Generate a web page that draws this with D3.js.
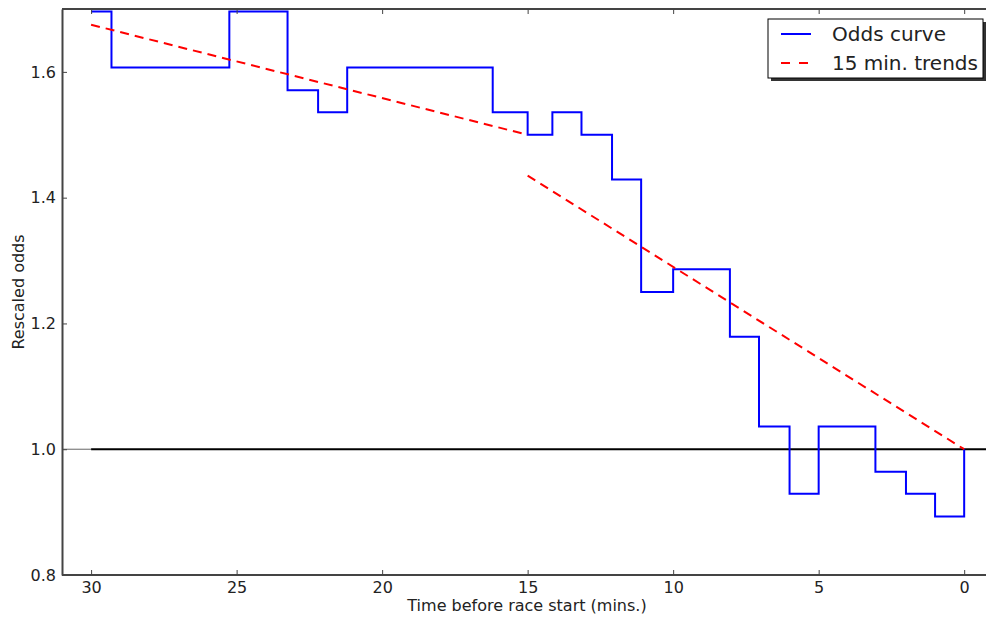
<!DOCTYPE html>
<html>
<head>
<meta charset="utf-8">
<script src="https://cdn.jsdelivr.net/npm/d3@7"></script>
<style>
  body { margin: 0; background: #fff; }
  svg { display: block; font-family: "DejaVu Sans", sans-serif; }
</style>
</head>
<body>
<svg id="chart" width="986" height="619"></svg>
<script>
// odds curve (minutes before start, rescaled odds)
const stepTimes = [30, 29.3, 25.25, 23.25, 22.2, 21.2, 16.2, 15, 14.15, 13.15, 12.1, 11.1, 10, 8.05, 7.05, 6, 5, 3.05, 2, 1, 0]
const stepOdds = [1.696, 1.607, 1.696, 1.571, 1.536, 1.607, 1.536, 1.5, 1.536, 1.5, 1.429, 1.25, 1.286, 1.179, 1.036, 0.929, 1.036, 0.964, 0.929, 0.893, 1.0]

// two 15 minute trend segments
const trendA = [[30, 1.675], [15, 1.5]]
const trendB = [[15, 1.435], [0, 1.0]]

const baseline = 1.0
const xTicks = [30, 25, 20, 15, 10, 5, 0]
const yTicks = [0.8, 1.0, 1.2, 1.4, 1.6]
const legendLabels = ['Odds curve', '15 min. trends']

const mLeft = 62, mRight = 986, mTop = 9, mBottom = 575

const svg = d3.select('#chart')

const xScale = d3.scaleLinear().domain([31, -0.75]).range([mLeft, mRight])
const yScale = d3.scaleLinear().domain([0.8, 1.7]).range([mBottom, mTop])

const points = stepTimes.map((t, i) => [t, stepOdds[i]])

const plot = svg.append('g')

// thin part of the 1.0 line left of the data, then the black line
plot.append('line')
    .attr('x1', xScale(31)).attr('x2', xScale(30))
    .attr('y1', yScale(baseline)).attr('y2', yScale(baseline))
    .attr('stroke', '#666').attr('stroke-width', 1)
plot.append('line')
    .attr('x1', xScale(30)).attr('x2', mRight)
    .attr('y1', yScale(baseline)).attr('y2', yScale(baseline))
    .attr('stroke', '#000').attr('stroke-width', 2)

const stepLine = d3.line()
    .x(d => xScale(d[0]))
    .y(d => yScale(d[1]))
    .curve(d3.curveStepAfter)

plot.append('path')
    .datum(points)
    .attr('d', stepLine)
    .attr('fill', 'none')
    .attr('stroke', '#0000ff')
    .attr('stroke-width', 2)

const straight = d3.line().x(d => xScale(d[0])).y(d => yScale(d[1]))

;[trendA, trendB].forEach(seg => {
    plot.append('path')
        .datum(seg)
        .attr('d', straight)
        .attr('fill', 'none')
        .attr('stroke', '#ff0000')
        .attr('stroke-width', 2)
        .attr('stroke-dasharray', '9,6')
})

// axes, matplotlib style: ticks point inwards, top spine too
const xAxis = svg.append('g')
    .attr('transform', 'translate(0,' + mBottom + ')')
    .call(d3.axisBottom(xScale).tickValues(xTicks).tickFormat(d3.format('d'))
        .tickSizeInner(-5).tickSizeOuter(0).tickPadding(7))
const xAxisTop = svg.append('g')
    .attr('transform', 'translate(0,' + mTop + ')')
    .call(d3.axisTop(xScale).tickValues(xTicks).tickFormat('')
        .tickSizeInner(-5).tickSizeOuter(0))
const yAxis = svg.append('g')
    .attr('transform', 'translate(' + mLeft + ',0)')
    .call(d3.axisLeft(yScale).tickValues(yTicks).tickFormat(d3.format('.1f'))
        .tickSizeInner(-5).tickSizeOuter(0).tickPadding(6))

;[xAxis, xAxisTop, yAxis].forEach(g => {
    g.select('.domain').attr('stroke', '#444').attr('stroke-width', 2)
    g.selectAll('.tick line').attr('stroke', '#444')
    g.selectAll('text').attr('font-size', 16)
        .attr('font-family', '"DejaVu Sans", sans-serif').attr('fill', '#222')
})
xAxis.select('.domain').attr('d', 'M' + mLeft + ',0H' + mRight)
xAxisTop.select('.domain').attr('d', 'M' + mLeft + ',0H' + mRight)

svg.append('text')
    .attr('x', 527)
    .attr('y', 611)
    .attr('text-anchor', 'middle')
    .attr('font-size', 16)
    .attr('fill', '#222')
    .text('Time before race start (mins.)')

svg.append('text')
    .attr('transform', 'translate(23.5,' + ((mTop + mBottom) / 2) + ') rotate(-90)')
    .attr('text-anchor', 'middle')
    .attr('font-size', 16)
    .attr('fill', '#222')
    .text('Rescaled odds')

// legend with a drop shadow
const legend = svg.append('g').attr('transform', 'translate(768,19)')
legend.append('rect')
    .attr('x', 3).attr('y', 3).attr('width', 215).attr('height', 59)
    .attr('fill', '#333')
legend.append('rect')
    .attr('width', 215).attr('height', 59)
    .attr('fill', '#fff').attr('stroke', '#000').attr('stroke-width', 1)

const legendStyles = [
    { color: '#0000ff', dash: null },
    { color: '#ff0000', dash: '9,9' }
]
legendLabels.forEach((label, i) => {
    const y = 15 + i * 29
    legend.append('line')
        .attr('x1', 13).attr('x2', 43).attr('y1', y).attr('y2', y)
        .attr('stroke', legendStyles[i].color).attr('stroke-width', 2)
        .attr('stroke-dasharray', legendStyles[i].dash)
    legend.append('text')
        .attr('x', 64).attr('y', y + 7)
        .attr('font-size', 20)
        .attr('fill', '#222')
        .text(label)
})
</script>
</body>
</html>
